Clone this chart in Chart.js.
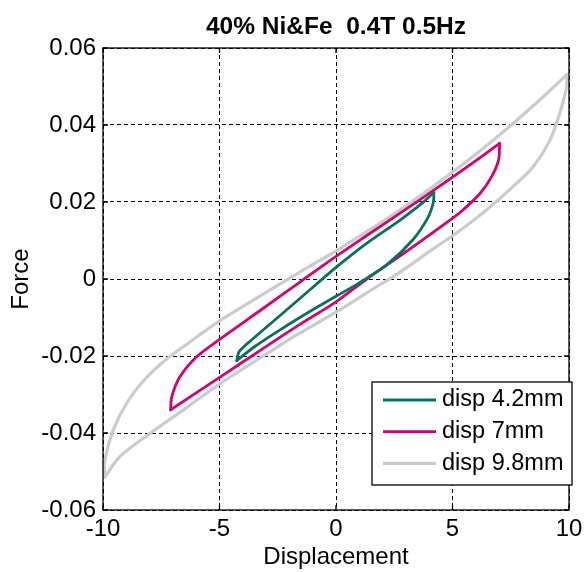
<!DOCTYPE html>
<html>
<head>
<meta charset="utf-8">
<title>40% Ni&amp;Fe 0.4T 0.5Hz</title>
<script src="https://cdn.jsdelivr.net/npm/chart.js@4.4.1/dist/chart.umd.min.js"></script>
<style>
    html, body { margin: 0; padding: 0; background: #fff; }
    #chart_container { width: 585px; height: 572px; }
</style>
</head>
<body>
<div id="chart_container"><canvas id="chart" width="585" height="572"></canvas></div>
<script>
const chartTitle = "40% Ni&Fe  0.4T 0.5Hz";
const xTicks = [-10, -5, 0, 5, 10];
const yTicks = [-0.06, -0.04, -0.02, 0, 0.02, 0.04, 0.06];
const seriesLabels = ["disp 4.2mm", "disp 7mm", "disp 9.8mm"];
const seriesColors = ["#08705c", "#d5006d", "#cbcbcb"];
const seriesWidths = [2.8, 2.8, 3.2];

// each loop: upper branch from the left tip to the right tip, then the lower branch back
const disp42Upper = [[-4.26, -0.0212], [-4.15, -0.0188], [-3.50, -0.0152], [-2.50, -0.0100], [-1.50, -0.0048],
    [0.00, 0.0030], [1.30, 0.0092], [2.75, 0.0153], [3.70, 0.0197], [4.20, 0.0225]];
const disp42Lower = [[4.20, 0.0225], [4.18, 0.0200], [3.95, 0.0160], [3.30, 0.0102], [2.20, 0.0038],
    [1.00, -0.0010], [0.00, -0.0045], [-1.00, -0.0080], [-2.40, -0.0132], [-3.50, -0.0176], [-4.26, -0.0212]];

const disp7Upper = [[-7.10, -0.0340], [-7.05, -0.0306], [-6.70, -0.0254], [-5.98, -0.0202], [-4.98, -0.0156],
    [-3.12, -0.0076], [-1.55, -0.0008], [0.03, 0.0060], [1.32, 0.0113], [2.75, 0.0171], [4.18, 0.0230],
    [5.32, 0.0278], [6.20, 0.0316], [7.02, 0.0352]];
const disp7Lower = [[7.02, 0.0352], [6.98, 0.0310], [6.68, 0.0266], [6.18, 0.0222], [5.46, 0.0180],
    [4.96, 0.0156], [4.00, 0.0114], [2.75, 0.0060], [1.32, 0.0000], [0.03, -0.0058], [-1.55, -0.0118],
    [-3.12, -0.0180], [-4.98, -0.0255], [-6.41, -0.0312], [-7.10, -0.0340]];

const disp98Upper = [[-9.93, -0.0515], [-9.92, -0.0470], [-9.56, -0.0392], [-8.98, -0.0322], [-8.27, -0.0265],
    [-7.27, -0.0208], [-6.12, -0.0157], [-4.98, -0.0108], [-3.60, -0.0057], [-1.55, 0.0018], [0.03, 0.0074],
    [1.32, 0.0123], [2.75, 0.0180], [4.18, 0.0241], [5.03, 0.0279], [6.47, 0.0347], [7.60, 0.0404],
    [8.60, 0.0457], [9.30, 0.0496], [9.90, 0.0531]];
const disp98Lower = [[9.90, 0.0531], [9.90, 0.0500], [9.60, 0.0430], [9.18, 0.0360], [8.47, 0.0292],
    [7.60, 0.0240], [6.47, 0.0180], [5.32, 0.0126], [4.00, 0.0071], [2.75, 0.0018], [1.32, -0.0036],
    [0.03, -0.0085], [-1.76, -0.0148], [-3.12, -0.0200], [-4.98, -0.0272], [-6.55, -0.0340],
    [-7.98, -0.0401], [-9.27, -0.0461], [-9.93, -0.0515]];

const loops = [[disp42Upper, disp42Lower], [disp7Upper, disp7Lower], [disp98Upper, disp98Lower]];

const FONT = "'Liberation Sans', Arial, sans-serif";

function toPoints(pairs) {
    return pairs.map(p => ({ x: p[0], y: p[1] }));
}

function buildDatasets() {
    let sets = [];
    loops.forEach((branches, i) => {
        branches.forEach(branch => {
            sets.push({
                label: seriesLabels[i],
                data: toPoints(branch),
                showLine: true,
                fill: false,
                borderColor: seriesColors[i],
                borderWidth: seriesWidths[i],
                borderJoinStyle: "round",
                borderCapStyle: "round",
                pointRadius: 0,
                tension: 0.3,
                order: i,
            });
        });
    });
    return sets;
}

// title centred over the plot area rather than the whole canvas
const plotTitle = {
    id: "plotTitle",
    afterDraw(chart) {
        const ctx = chart.ctx;
        const area = chart.chartArea;
        ctx.save();
        ctx.font = "bold 24.5px " + FONT;
        ctx.fillStyle = "#000";
        ctx.textAlign = "center";
        ctx.textBaseline = "middle";
        ctx.fillText(chartTitle, (area.left + area.right) / 2, 27);
        ctx.restore();
    }
};

// solid frame round the plot with short inward ticks on all four sides
const axesBox = {
    id: "axesBox",
    afterDatasetsDraw(chart) {
        const ctx = chart.ctx;
        const area = chart.chartArea;
        const xs = chart.scales.x;
        const ys = chart.scales.y;
        const len = 5;
        ctx.save();
        ctx.strokeStyle = "#000";
        ctx.lineWidth = 1.3;
        ctx.strokeRect(area.left, area.top, area.right - area.left, area.bottom - area.top);
        ctx.beginPath();
        xTicks.forEach(v => {
            const px = xs.getPixelForValue(v);
            ctx.moveTo(px, area.bottom); ctx.lineTo(px, area.bottom - len);
            ctx.moveTo(px, area.top); ctx.lineTo(px, area.top + len);
        });
        yTicks.forEach(v => {
            const py = ys.getPixelForValue(v);
            ctx.moveTo(area.left, py); ctx.lineTo(area.left + len, py);
            ctx.moveTo(area.right, py); ctx.lineTo(area.right - len, py);
        });
        ctx.stroke();
        ctx.restore();
    }
};

const boxLegend = {
    id: "boxLegend",
    afterDraw(chart) {
        const ctx = chart.ctx;
        const area = chart.chartArea;
        const w = 200, h = 103;
        const left = area.right + 3 - w;
        const top = area.bottom - 25 - h;
        ctx.save();
        ctx.fillStyle = "#fff";
        ctx.fillRect(left, top, w, h);
        ctx.strokeStyle = "#000";
        ctx.lineWidth = 1.3;
        ctx.strokeRect(left, top, w, h);
        ctx.font = "23.5px " + FONT;
        ctx.textBaseline = "middle";
        seriesLabels.forEach((label, i) => {
            const y = top + 18 + i * 31.7;
            ctx.strokeStyle = seriesColors[i];
            ctx.lineWidth = seriesWidths[i];
            ctx.beginPath();
            ctx.moveTo(left + 11, y);
            ctx.lineTo(left + 64, y);
            ctx.stroke();
            ctx.fillStyle = "#000";
            ctx.fillText(label, left + 70, y);
        });
        ctx.restore();
    }
};

function createChart() {
    new Chart("chart", {
        type: "scatter",
        data: { datasets: buildDatasets() },
        options: {
            responsive: false,
            animation: false,
            devicePixelRatio: 1,
            layout: { padding: { left: 0, right: 16, top: 48, bottom: 0 } },
            plugins: {
                legend: { display: false },
                tooltip: { enabled: false },
                title: { display: false },
            },
            scales: {
                x: {
                    type: "linear",
                    min: -10,
                    max: 10,
                    afterFit: scale => {
                        scale.height = 62;
                        scale.paddingLeft = 0;
                        scale.paddingRight = 0;
                    },
                    afterBuildTicks: scale => { scale.ticks = xTicks.map(v => ({ value: v })); },
                    ticks: {
                        color: "#000",
                        font: { family: FONT, size: 24 },
                        padding: 5,
                        maxRotation: 0,
                        callback: v => String(v),
                    },
                    grid: { color: "#000", lineWidth: 1, drawTicks: false },
                    border: { display: false, dash: [4, 3] },
                    title: {
                        display: true,
                        text: "Displacement",
                        color: "#000",
                        font: { family: FONT, size: 24 },
                        padding: { top: 0, bottom: 0 },
                    },
                },
                y: {
                    type: "linear",
                    min: -0.06,
                    max: 0.06,
                    afterFit: scale => {
                        scale.width = 103;
                        scale.paddingTop = 0;
                        scale.paddingBottom = 0;
                    },
                    afterBuildTicks: scale => { scale.ticks = yTicks.map(v => ({ value: v })); },
                    ticks: {
                        color: "#000",
                        font: { family: FONT, size: 24 },
                        padding: 7,
                        callback: v => String(+v.toFixed(2)),
                    },
                    grid: { color: "#000", lineWidth: 1, drawTicks: false },
                    border: { display: false, dash: [4, 3] },
                    title: {
                        display: true,
                        text: "Force",
                        color: "#000",
                        font: { family: FONT, size: 24 },
                        padding: { top: 7, bottom: 0 },
                    },
                },
            },
        },
        plugins: [plotTitle, axesBox, boxLegend],
    });
}

createChart();
</script>
</body>
</html>
